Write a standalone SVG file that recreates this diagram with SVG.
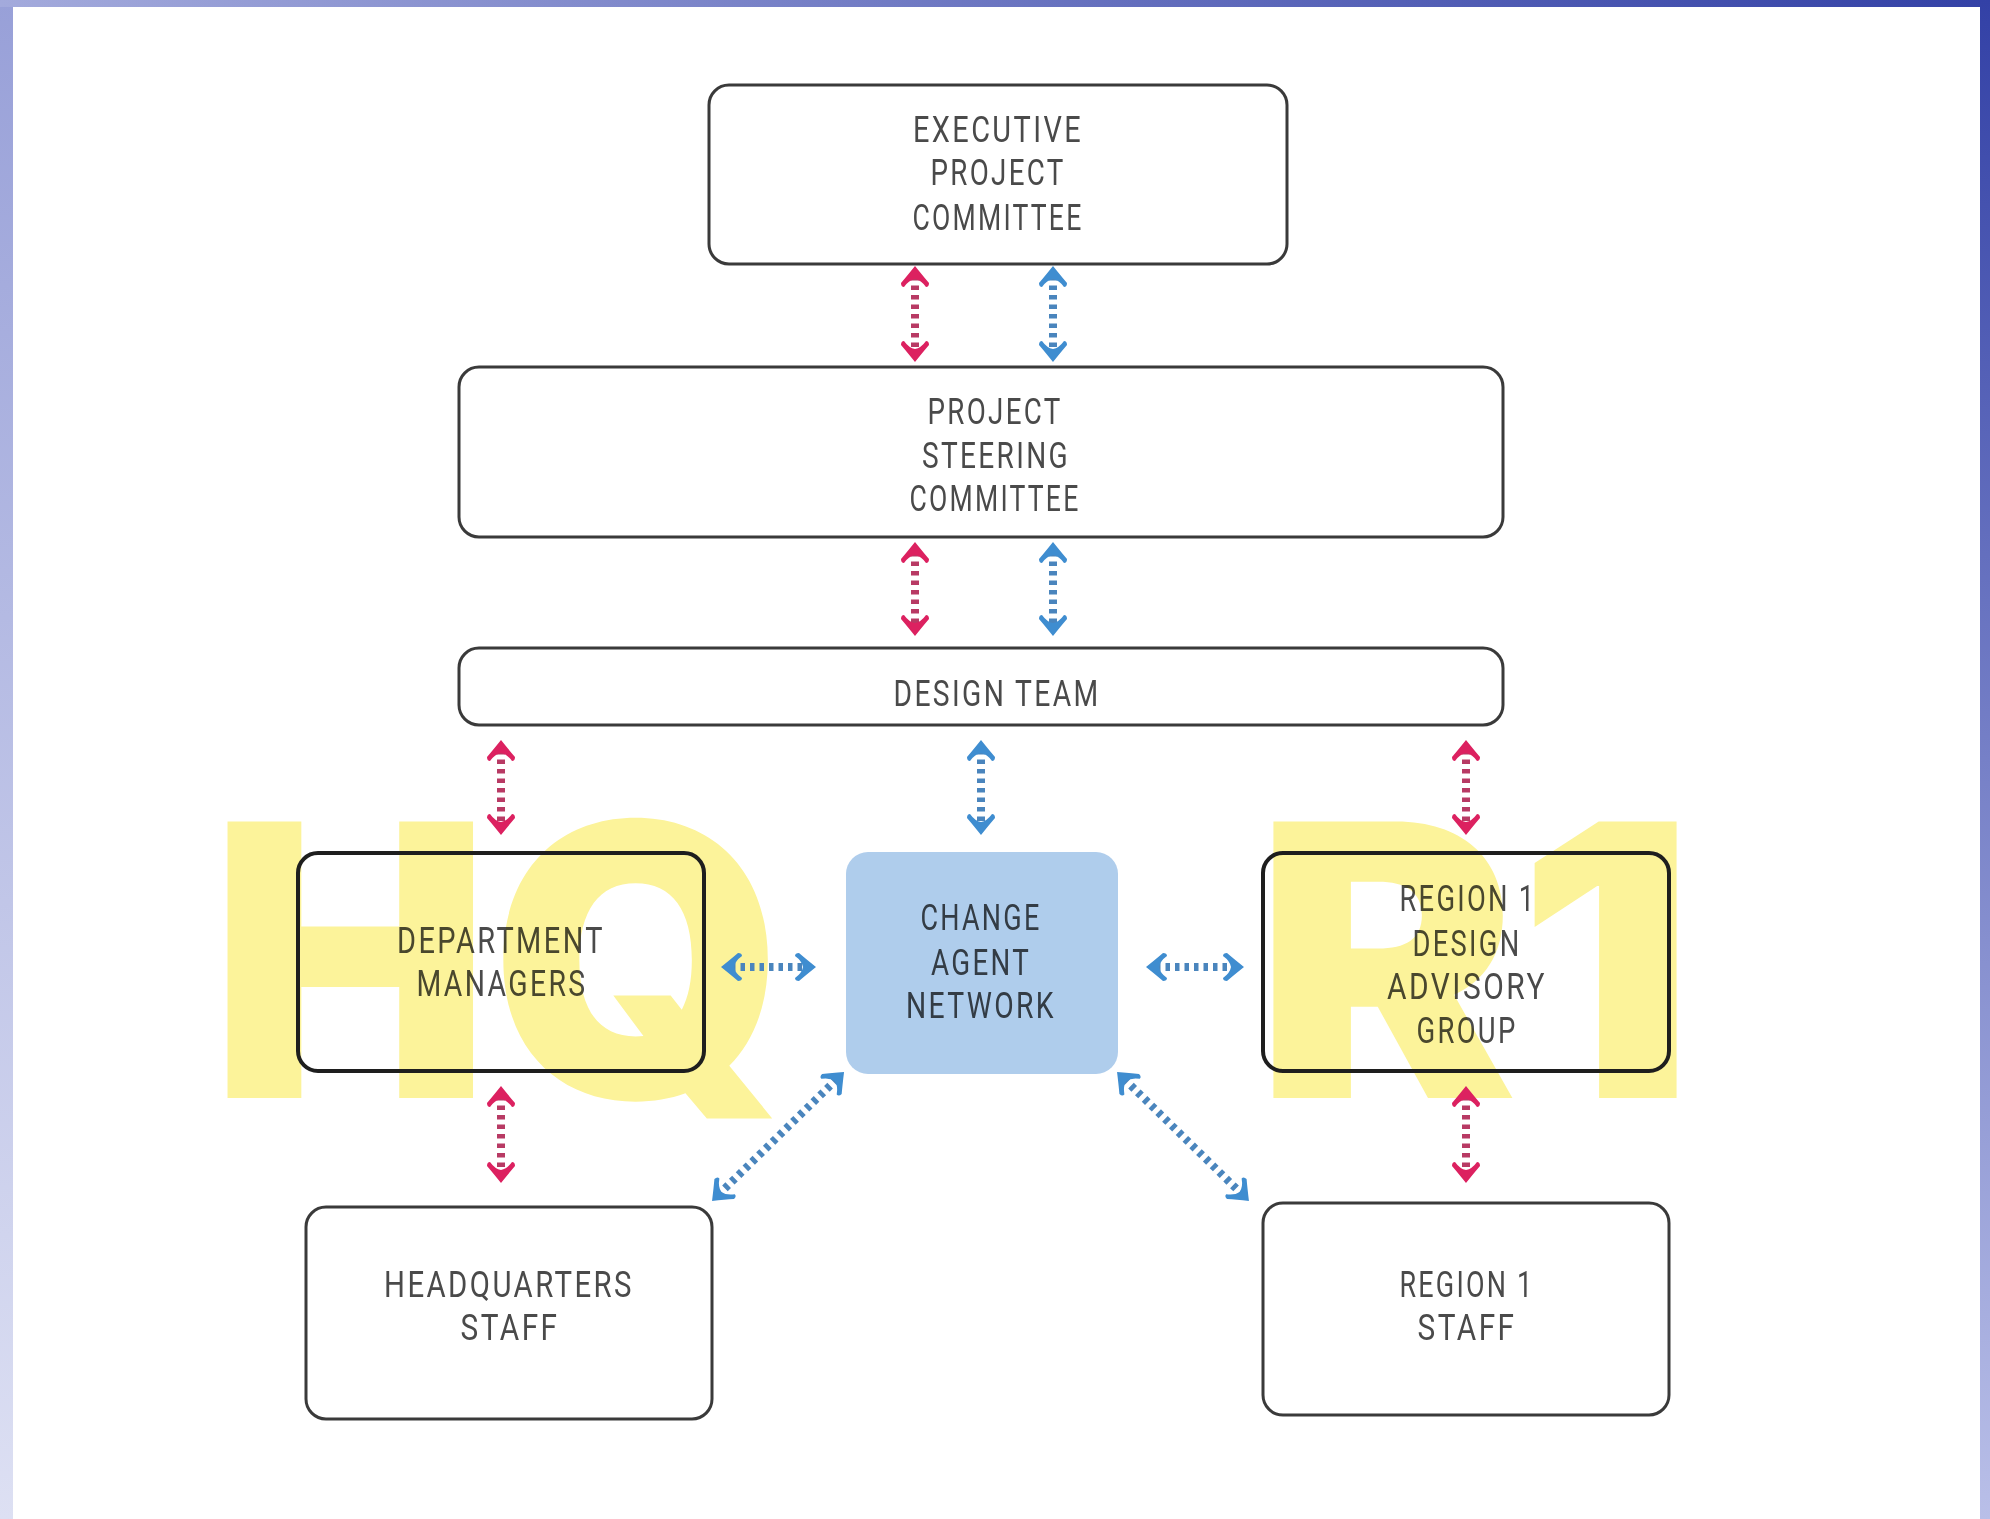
<svg xmlns="http://www.w3.org/2000/svg" width="1990" height="1519" viewBox="0 0 1990 1519">
<defs>
<linearGradient id="gLeft" x1="0" y1="0" x2="0" y2="1"><stop offset="0" stop-color="#98a0d8"/><stop offset="1" stop-color="#dde0f3"/></linearGradient>
<linearGradient id="gTop" x1="0" y1="0" x2="1" y2="0"><stop offset="0" stop-color="#a3aadc"/><stop offset="1" stop-color="#3341a6"/></linearGradient>
<linearGradient id="gRight" x1="0" y1="0" x2="0" y2="1"><stop offset="0" stop-color="#3341a6"/><stop offset="1" stop-color="#b9bfe8"/></linearGradient>
<marker id="mRed" viewBox="0 -15 24 30" markerWidth="24" markerHeight="30" refX="12" refY="0" orient="auto-start-reverse" markerUnits="userSpaceOnUse">
<path d="M22,0 Q12,-8 5,-14 Q1,-14 1,-11 Q8,-6 9,0 Q8,6 1,11 Q1,14 5,14 Q12,8 22,0 Z" fill="#dc2160"/>
</marker>
<marker id="mBlue" viewBox="0 -15 24 30" markerWidth="24" markerHeight="30" refX="12" refY="0" orient="auto-start-reverse" markerUnits="userSpaceOnUse">
<path d="M22,0 Q12,-8 5,-14 Q1,-14 1,-11 Q8,-6 9,0 Q8,6 1,11 Q1,14 5,14 Q12,8 22,0 Z" fill="#3f8dd0"/>
</marker>
<style>
.box{fill:none;stroke:#3a3a3a;stroke-width:3}
.boxw{fill:#fff;stroke:#3a3a3a;stroke-width:3}
.boxk{fill:none;stroke:#1e1e1e;stroke-width:4}
.lbl{font-family:Roboto,"Liberation Sans",sans-serif;font-weight:400;font-size:36px;letter-spacing:3px;fill:#4a4a4a;text-anchor:middle;mix-blend-mode:multiply}
.big{font-family:Inter,Lato,Roboto,"Liberation Sans",sans-serif;font-weight:900;font-size:380px;fill:#fcf39a}
.red{fill:none;stroke:#b83a64;stroke-width:8;stroke-dasharray:4.5 5;marker-start:url(#mRed);marker-end:url(#mRed)}
.blue{fill:none;stroke:#4a85bd;stroke-width:8;stroke-dasharray:4.5 5;marker-start:url(#mBlue);marker-end:url(#mBlue)}
</style>
</defs>
<g id="background">
<rect x="0" y="0" width="1990" height="1519" fill="#fff"/>
<rect x="0" y="0" width="13" height="1519" fill="url(#gLeft)"/>
<rect x="0" y="0" width="1990" height="7" fill="url(#gTop)"/>
<rect x="1980" y="0" width="10" height="1519" fill="url(#gRight)"/>
</g>
<g id="watermarks">
<text class="big" x="210" y="1098" textLength="575" lengthAdjust="spacingAndGlyphs">HQ</text>
<text class="big" x="1255" y="1098" textLength="440" lengthAdjust="spacingAndGlyphs">R1</text>
</g>
<g id="executive-project-committee">
<rect class="boxw" x="709" y="85" width="578" height="179" rx="20"/>
<text class="lbl" x="998" y="142" textLength="170" lengthAdjust="spacingAndGlyphs">EXECUTIVE</text>
<text class="lbl" x="998" y="185" textLength="135" lengthAdjust="spacingAndGlyphs">PROJECT</text>
<text class="lbl" x="998" y="230" textLength="171" lengthAdjust="spacingAndGlyphs">COMMITTEE</text>
</g>
<g id="project-steering-committee">
<rect class="boxw" x="459" y="367" width="1044" height="170" rx="20"/>
<text class="lbl" x="995" y="424" textLength="135" lengthAdjust="spacingAndGlyphs">PROJECT</text>
<text class="lbl" x="996" y="468" textLength="148" lengthAdjust="spacingAndGlyphs">STEERING</text>
<text class="lbl" x="995" y="511" textLength="171" lengthAdjust="spacingAndGlyphs">COMMITTEE</text>
</g>
<g id="design-team">
<rect class="boxw" x="459" y="648" width="1044" height="77" rx="20"/>
<text class="lbl" x="997" y="706" textLength="207" lengthAdjust="spacingAndGlyphs">DESIGN TEAM</text>
</g>
<g id="department-managers">
<rect class="boxk" x="298" y="853" width="406" height="218" rx="20"/>
<text class="lbl" x="501" y="953" textLength="208" lengthAdjust="spacingAndGlyphs">DEPARTMENT</text>
<text class="lbl" x="502" y="996" textLength="171" lengthAdjust="spacingAndGlyphs">MANAGERS</text>
</g>
<g id="change-agent-network">
<rect x="846" y="852" width="272" height="222" rx="22" fill="#afcdec"/>
<text class="lbl" x="981" y="930" textLength="121" lengthAdjust="spacingAndGlyphs">CHANGE</text>
<text class="lbl" x="981" y="975" textLength="100" lengthAdjust="spacingAndGlyphs">AGENT</text>
<text class="lbl" x="981" y="1018" textLength="150" lengthAdjust="spacingAndGlyphs">NETWORK</text>
</g>
<g id="region1-design-advisory-group">
<rect class="boxk" x="1263" y="853" width="406" height="218" rx="20"/>
<text class="lbl" x="1468" y="911" textLength="137" lengthAdjust="spacingAndGlyphs">REGION 1</text>
<text class="lbl" x="1467" y="956" textLength="109" lengthAdjust="spacingAndGlyphs">DESIGN</text>
<text class="lbl" x="1467" y="999" textLength="160" lengthAdjust="spacingAndGlyphs">ADVISORY</text>
<text class="lbl" x="1467" y="1043" textLength="101" lengthAdjust="spacingAndGlyphs">GROUP</text>
</g>
<g id="headquarters-staff">
<rect class="boxw" x="306" y="1207" width="406" height="212" rx="20"/>
<text class="lbl" x="509" y="1297" textLength="250" lengthAdjust="spacingAndGlyphs">HEADQUARTERS</text>
<text class="lbl" x="510" y="1340" textLength="99" lengthAdjust="spacingAndGlyphs">STAFF</text>
</g>
<g id="region1-staff">
<rect class="boxw" x="1263" y="1203" width="406" height="212" rx="20"/>
<text class="lbl" x="1467" y="1297" textLength="135" lengthAdjust="spacingAndGlyphs">REGION 1</text>
<text class="lbl" x="1467" y="1340" textLength="99" lengthAdjust="spacingAndGlyphs">STAFF</text>
</g>
<g id="connectors">
<path class="red" d="M915,276 V352"/>
<path class="blue" d="M1053,276 V352"/>
<path class="red" d="M915,552 V626"/>
<path class="blue" d="M1053,552 V626"/>
<path class="red" d="M501,750 V825"/>
<path class="blue" d="M981,750 V825"/>
<path class="red" d="M1466,750 V825"/>
<path class="blue" d="M731,967 H806"/>
<path class="blue" d="M1156,967 H1234"/>
<path class="red" d="M501,1096 V1173"/>
<path class="red" d="M1466,1096 V1173"/>
<path class="blue" d="M836.9,1079 L719.2,1194"/>
<path class="blue" d="M1124.2,1079 L1241.8,1194"/>
</g>
</svg>
